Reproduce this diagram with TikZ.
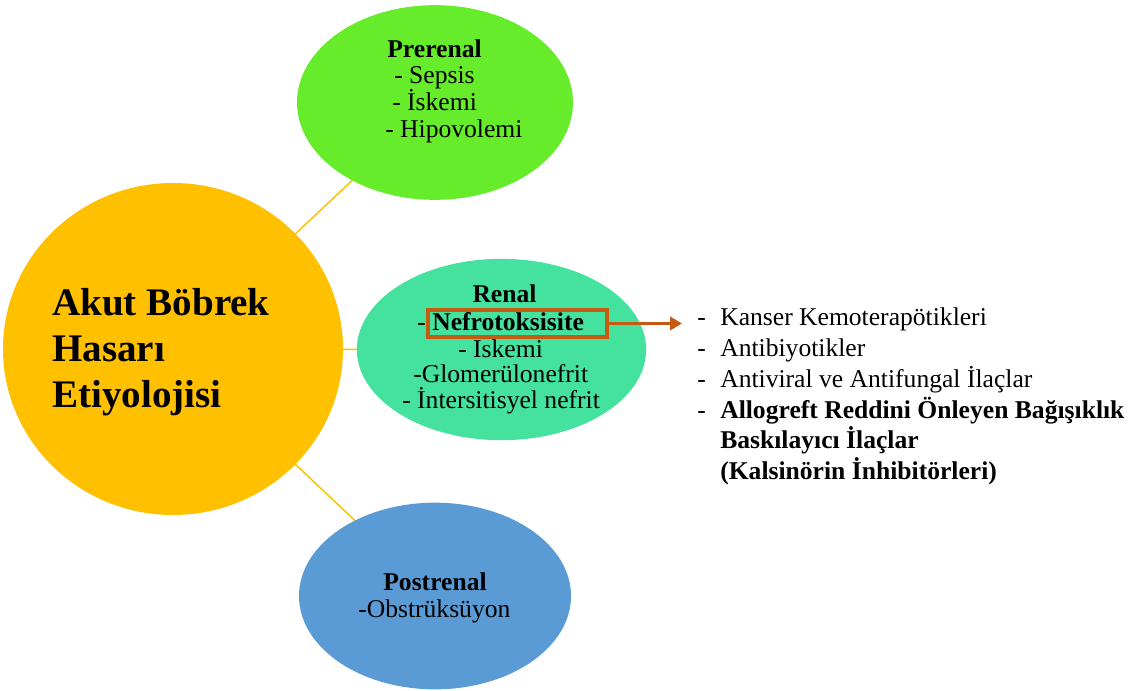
\documentclass[tikz,border=0pt]{standalone}
\usepackage{fontspec}
\setmainfont{Liberation Serif}
\usetikzlibrary{shapes.geometric,backgrounds,arrows.meta}
\definecolor{mainyel}{HTML}{FFC000}
\definecolor{pregreen}{HTML}{66EC2A}
\definecolor{rengreen}{HTML}{44E29E}
\definecolor{postblue}{HTML}{5B9BD5}
\definecolor{boxorange}{HTML}{C55A11}
\tikzset{
  blob/.style={ellipse, inner sep=0pt, draw=none},
  txt/.style={anchor=base west, inner sep=0pt, font=\fontsize{19.2}{23}\selectfont},
  txtc/.style={anchor=base, inner sep=0pt, font=\fontsize{19.2}{23}\selectfont},
  bigtxt/.style={anchor=base west, inner sep=0pt, font=\fontsize{29.3}{34}\selectfont\bfseries},
  link/.style={draw=mainyel, line width=1.1pt},
  hilite/.style={draw=boxorange, line width=2.6pt},
}
\begin{document}
\begin{tikzpicture}[x=0.75pt,y=-0.75pt]
\useasboundingbox (0,0) rectangle (1138,690);
% shapes
\node[blob, fill=mainyel, minimum width=255pt, minimum height=249pt] (main) at (173,349) {};
\node[blob, fill=pregreen, minimum width=207pt, minimum height=146pt] (pre) at (435,102.5) {};
\node[blob, fill=rengreen, minimum width=217pt, minimum height=136pt] (ren) at (501.5,349.5) {};
\node[blob, fill=postblue, minimum width=204pt, minimum height=140pt] (post) at (435,596) {};
\begin{scope}[on background layer]
  \draw[link] (main.center) -- (pre.center);
  \draw[link] (main.center) -- (ren.center);
  \draw[link] (main.center) -- (post.center);
\end{scope}
% main title
\node[bigtxt] (m1) at (52,315) {Akut Böbrek};
\node[bigtxt] (m2) at (52,361) {Hasarı};
\node[bigtxt] (m3) at (52,407) {Etiyolojisi};
% prerenal
\node[txtc] (p0) at (434.5,57) {\bfseries Prerenal};
\node[txt] (p1) at (394,83) {- Sepsis};
\node[txt] (p2) at (392,110) {- İskemi};
\node[txt] (p3) at (385,137) {- Hipovolemi};
% renal
\node[txtc] (r0) at (504.5,302) {\bfseries Renal};
\node[txt] (r1a) at (417,330) {-};
\node[txt] (r1) at (432,330) {\bfseries Nefrotoksisite};
\node[txt] (r2) at (458,357) {- İskemi};
\node[txt] (r3) at (413,382) {-Glomerülonefrit};
\node[txt] (r4) at (402,408) {- İntersitisyel nefrit};
\node[hilite, draw, inner sep=0pt, minimum width=134.25pt, minimum height=20.25pt] (hbox) at (517.5,323.5) {};
\coordinate (arrend) at (682,323.5);
\draw[hilite, -{Triangle[length=9pt,width=10pt]}] (hbox.east) -- (arrend);
% postrenal
\node[txtc] (q0) at (435,590) {\bfseries Postrenal};
\node[txt] (q1) at (358,617) {-Obstrüksüyon};
% right list
\node[txt] (d1) at (697,325) {-};
\node[txt] (l1) at (720,325) {Kanser Kemoterapötikleri};
\node[txt] (d2) at (697,356) {-};
\node[txt] (l2) at (720,356) {Antibiyotikler};
\node[txt] (d3) at (697,387) {-};
\node[txt] (l3) at (720,387) {Antiviral ve Antifungal İlaçlar};
\node[txt] (d4) at (697,418) {-};
\node[txt] (l4) at (720,418) {\bfseries Allogreft Reddini Önleyen Bağışıklık};
\node[txt] (l5) at (720,448) {\bfseries Baskılayıcı İlaçlar};
\node[txt] (l6) at (720,479) {\bfseries (Kalsinörin İnhibitörleri)};
\end{tikzpicture}
\end{document}
